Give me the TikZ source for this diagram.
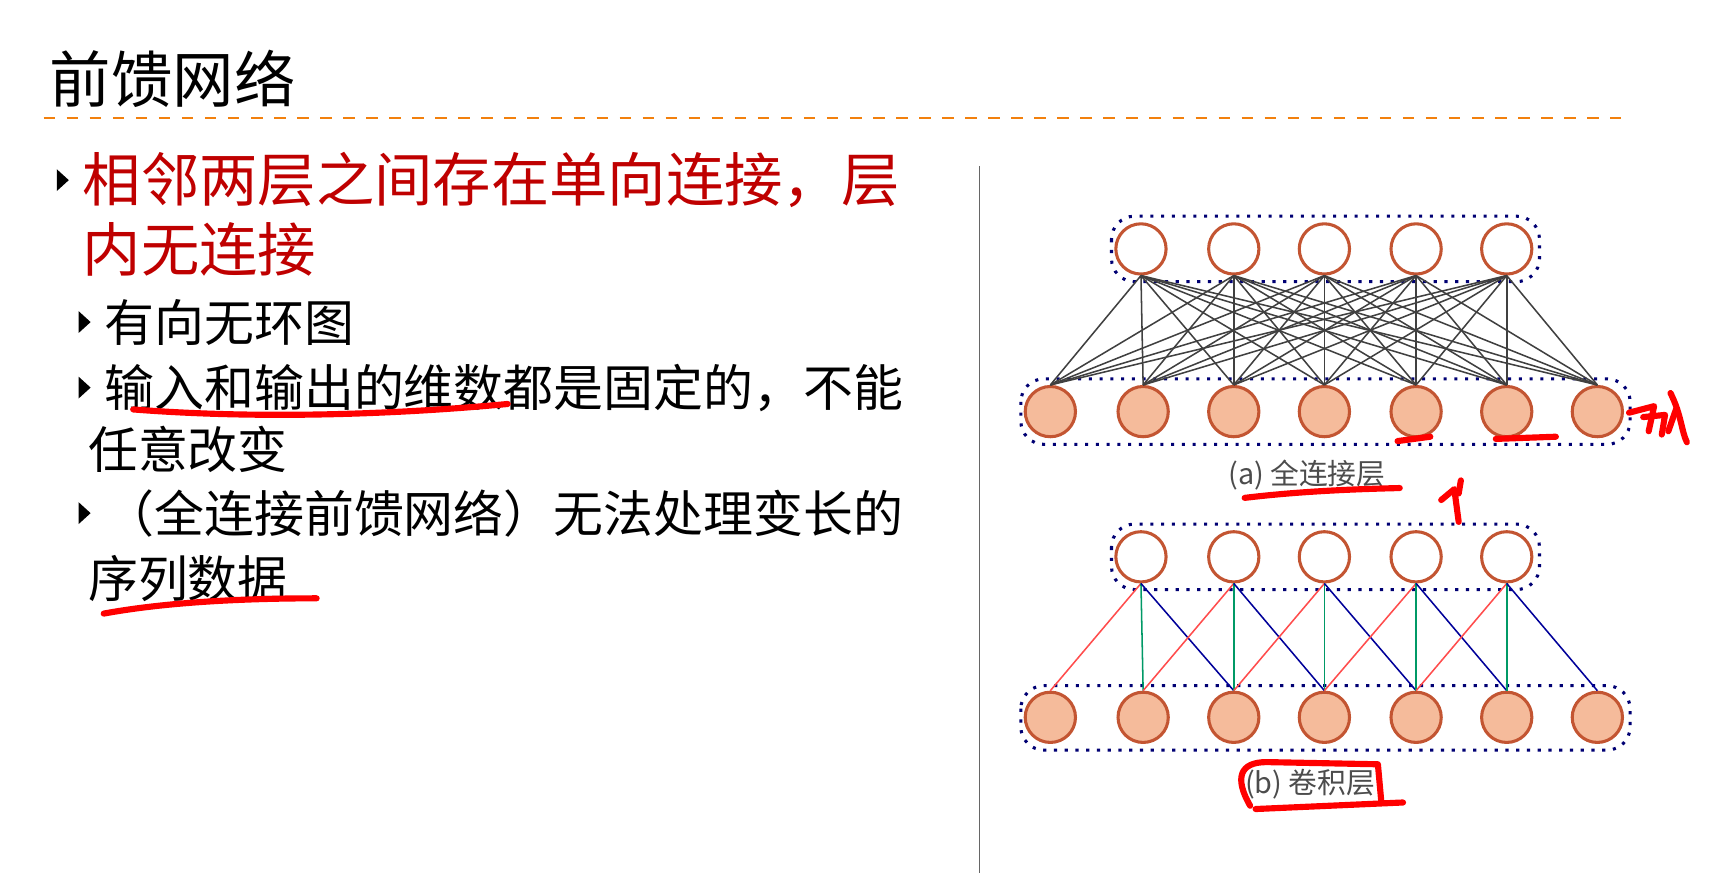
\documentclass[tikz,border=0pt]{standalone}
\usepackage{fontspec}
\setmainfont{Noto Sans CJK SC}
\usetikzlibrary{shapes.geometric}
\definecolor{nodeedge}{RGB}{195,85,50}
\definecolor{nodefill}{RGB}{245,187,155}

\begin{document}
\begin{tikzpicture}[
    x=0.01cm, y=-0.01cm,
    every node/.style={inner sep=0pt},
    txt/.style={anchor=west, font=\fontsize{13}{15}\selectfont},
    hid/.style={circle, draw=nodeedge, thick, minimum width=0.46cm, minimum height=0.46cm},
    inp/.style={hid, fill=nodefill},
    grp/.style={draw=blue!45!black, dotted, thick, rounded corners=6pt},
    captext/.style={font=\fontsize{7.5}{9}\selectfont, text=black!70},
    pen/.style={red, line width=1.6pt, line cap=round, line join=round}
]
\useasboundingbox (0,0) rectangle (1568,810);

% Title
\node (title) [anchor=west, font=\fontsize{16}{18}\selectfont] at (45,72) {前馈网络};
\draw[orange!80!brown, dashed] (40,108) -- (1485,108);

% Bullets
\node (b1) [txt, font=\fontsize{15.2}{18}\selectfont, text=red!75!black] at (75,165) {相邻两层之间存在单向连接，层};
\node (b1b) [txt, font=\fontsize{15.2}{18}\selectfont, text=red!75!black] at (75,228) {内无连接};
\node (s1) [txt] at (95,295) {有向无环图};
\node (s2) [txt] at (95,355) {输入和输出的维数都是固定的，不能};
\node (s2b) [txt] at (80,412) {任意改变};
\node (s3) [txt] at (95,470) {（全连接前馈网络）无法处理变长的};
\node (s3b) [txt] at (80,530) {序列数据};
\foreach \y/\x in {165/52, 295/72, 355/72, 470/72}
  \fill (\x,\y-10) -- (\x+11,\y) -- (\x,\y+10) -- cycle;

% Divider
\draw[black!60] (897,152) -- (897,800);

% (a) fully connected
\draw[grp] (1018,198) rectangle (1410,258);
\draw[grp] (935,347) rectangle (1493,407);
\foreach \i/\x in {1/1045,2/1130,3/1213,4/1297,5/1380}
  \node (at\i) [hid] at (\x,228) {};
\foreach \i/\x in {1/962,2/1047,3/1130,4/1213,5/1297,6/1380,7/1463}
  \node (ab\i) [inp] at (\x,377) {};
\foreach \i in {1,...,5}
  \foreach \j in {1,...,7}
    \draw[black!75, thin] (at\i.south) -- (ab\j.north);
\node (capa) [captext] at (1197,435) {(a) 全连接层};

% (b) convolution
\draw[grp] (1018,480) rectangle (1410,540);
\draw[grp] (935,628) rectangle (1493,687);
\foreach \i/\x in {1/1045,2/1130,3/1213,4/1297,5/1380}
  \node (bt\i) [hid] at (\x,510) {};
\foreach \i/\x in {1/962,2/1047,3/1130,4/1213,5/1297,6/1380,7/1463}
  \node (bb\i) [inp] at (\x,657) {};
\foreach \i [evaluate=\i as \m using int(\i+1), evaluate=\i as \r using int(\i+2)] in {1,...,5} {
  \draw[red!70, thin] (bt\i.south) -- (bb\i.north);
  \draw[teal!80!green, thin] (bt\i.south) -- (bb\m.north);
  \draw[blue!60!black, thin] (bt\i.south) -- (bb\r.north);
}
\node (capb) [captext] at (1200,718) {(b) 卷积层};

% Handwritten marks
\draw[pen] (122,375) .. controls (250,385) and (380,378) .. (465,370);
\draw[pen] (95,562) .. controls (160,550) and (240,548) .. (290,548);
\draw[pen] (1280,404) -- (1310,400);
\draw[pen] (1370,402) -- (1425,400);
\draw[pen] (1140,456) .. controls (1190,450) and (1240,448) .. (1282,447);
\draw[pen] (1320,458) -- (1332,448) -- (1336,478);
\draw[pen] (1338,440) -- (1336,452);
\draw[pen] (1145,738) .. controls (1130,712) and (1136,698) .. (1160,698) -- (1262,700) -- (1265,733);
\draw[pen] (1150,741) -- (1285,735);
\draw[pen] (1492,378) -- (1515,372) -- (1510,395);
\draw[pen] (1505,382) -- (1525,380) -- (1522,398);
\draw[pen] (1530,360) .. controls (1540,380) and (1540,395) .. (1545,405);
\draw[pen] (1535,375) -- (1528,395);
\end{tikzpicture}
\end{document}
